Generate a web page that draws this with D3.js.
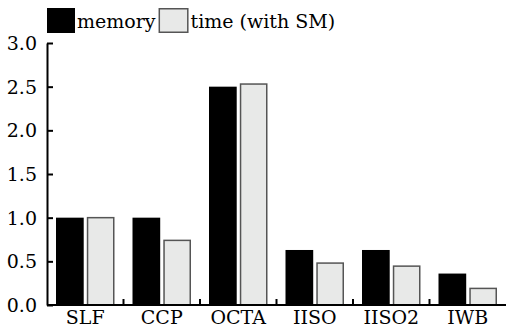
<!DOCTYPE html>
<html>
<head>
<meta charset="utf-8">
<script src="https://cdn.jsdelivr.net/npm/d3@7"></script>
<style>
  body { margin: 0; background: #fff; }
</style>
</head>
<body>
<svg class="chart" width="506" height="328"></svg>
<script>
// grouped bars: memory vs time (with SM)
var categories = ["SLF", "CCP", "OCTA", "IISO", "IISO2", "IWB"];
var seriesNames = ["memory", "time (with SM)"];
var memory = [1.0, 1.0, 2.5, 0.63, 0.63, 0.36];
var timeSM = [1.0, 0.74, 2.53, 0.48, 0.445, 0.19];
var yTicks = [0, 0.5, 1, 1.5, 2, 2.5, 3];

var svg = d3.select(".chart"),
    width = +svg.attr("width"),
    height = +svg.attr("height");
var mLeft = 47, mRight = 506, mTop = 43, mBottom = 305;
var fills = ["#000000", "#e8e9e8"];
var strokes = ["#000000", "#555555"];
var fontFam = "'DejaVu Serif', 'Noto Serif', serif";
var fontSize = "19px";

var x = d3.scaleBand().domain(categories).range([mLeft, mRight]).paddingInner(0).paddingOuter(0);
var xi = d3.scaleBand().domain([0, 1]).range([9, x.bandwidth() - 9]).paddingInner(0.1);
var y = d3.scaleLinear().domain([0, 3]).range([mBottom, mTop]);

var rows = categories.map(function (c, i) { return { cat: c, vals: [memory[i], timeSM[i]] }; });

var groups = svg.append("g").selectAll("g")
    .data(rows).enter().append("g")
    .attr("transform", function (d) { return "translate(" + x(d.cat) + ",0)"; });

groups.selectAll("rect")
    .data(function (d) { return d.vals; })
    .enter().append("rect")
    .attr("x", function (v, j) { return xi(j) + (j == 1 ? 0.75 : 0); })
    .attr("y", function (v) { return y(v); })
    .attr("width", function (v, j) { return xi.bandwidth() - (j == 1 ? 1.5 : 0); })
    .attr("height", function (v) { return mBottom - y(v); })
    .attr("fill", function (v, j) { return fills[j]; })
    .attr("stroke", function (v, j) { return j == 1 ? strokes[1] : "none"; })
    .attr("stroke-width", 1.5);

// y axis, ticks pointing inward
var yAxis = svg.append("g")
    .attr("transform", "translate(" + mLeft + ",0)")
    .call(d3.axisRight(y).tickValues(yTicks).tickSize(6).tickFormat(d3.format(".1f")).tickSizeOuter(0));
yAxis.select(".domain").attr("stroke", "#000").attr("stroke-width", 2);
yAxis.selectAll(".tick line").attr("stroke-width", 2);
yAxis.selectAll(".tick text")
    .attr("x", -10).attr("text-anchor", "end")
    .attr("dy", "0.35em")
    .style("font-family", fontFam)
    .style("font-size", fontSize);

// x axis, small ticks between groups
var xAxis = svg.append("g")
    .attr("transform", "translate(0," + mBottom + ")");
xAxis.append("line")
    .attr("x1", mLeft).attr("x2", mRight)
    .attr("stroke", "#000").attr("stroke-width", 2);
xAxis.selectAll(".sep")
    .data(categories.slice(1)).enter().append("line")
    .attr("class", "sep")
    .attr("x1", function (c) { return x(c); }).attr("x2", function (c) { return x(c); })
    .attr("y1", 0).attr("y2", -6)
    .attr("stroke", "#000").attr("stroke-width", 2);
xAxis.selectAll(".lab")
    .data(categories).enter().append("text")
    .attr("class", "lab")
    .attr("x", function (c) { return x(c) + x.bandwidth() / 2; })
    .attr("y", 19)
    .attr("text-anchor", "middle")
    .style("font-family", fontFam)
    .style("font-size", fontSize)
    .text(function (c) { return c; });

// legend
var legend = svg.append("g").attr("transform", "translate(47,8)");
var lx = 0;
seriesNames.forEach(function (s, i) {
  var g = legend.append("g").attr("transform", "translate(" + lx + ",0)");
  g.append("rect")
    .attr("x", i == 1 ? 0.75 : 0).attr("y", i == 1 ? 0.75 : 0)
    .attr("width", i == 1 ? 28.5 : 28).attr("height", i == 1 ? 23.5 : 25)
    .attr("fill", fills[i])
    .attr("stroke", i == 1 ? strokes[1] : "none").attr("stroke-width", 1.5);
  var tx = i == 1 ? 32 : 30;
  var t = g.append("text").attr("x", tx).attr("y", 20)
    .style("font-family", fontFam).style("font-size", fontSize).text(s);
  lx += tx + t.node().getComputedTextLength() + 3;
});
</script>
</body>
</html>
